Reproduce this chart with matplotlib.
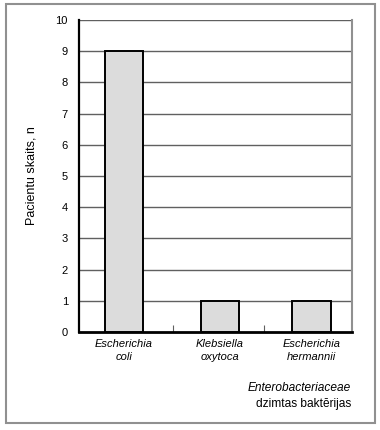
import matplotlib.pyplot as plt
from matplotlib.patches import Rectangle

# Data
species = ['Escherichia\ncoli', 'Klebsiella\noxytoca', 'Escherichia\nhermannii']
patients = [9, 1, 1]
y_ticks = list(range(0, 11))

plt.rcParams['font.family'] = ['Liberation Sans', 'DejaVu Sans']

fig = plt.figure(figsize=(3.8, 4.3), dpi=100)
W, H = 380, 430
ax = fig.add_axes([79 / W, 1 - 332 / H, 273 / W, 312 / H])

# horizontal grid lines
for t in y_ticks[1:]:
    ax.axhline(t, color='#606060', lw=1.0, zorder=1)

x = [0.015, 1.07, 2.075]
ax.bar(x, patients, width=0.42, color='#dcdcdc', edgecolor='black', lw=1.4, zorder=3)

ax.set_xlim(-0.48, 2.52)
ax.set_ylim(0, 10)
ax.set_yticks(y_ticks)
ax.tick_params(axis='y', length=0, pad=8, labelsize=8)
ax.set_xticks([0.553, 1.553])
ax.set_xticklabels([])
ax.tick_params(axis='x', direction='in', length=5, width=0.8, color='#606060')

for xi, name in zip(x, species):
    ax.text(xi, -0.24, name, ha='center', va='top', style='italic', fontsize=8,
            linespacing=1.35)

ax.spines['top'].set_visible(False)
ax.spines['right'].set_color('#909090')
ax.spines['right'].set_linewidth(1.5)
ax.spines['left'].set_linewidth(1.6)
ax.spines['bottom'].set_linewidth(2.0)

ax.set_ylabel('Pacientu skaits, n', fontsize=9)
ax.yaxis.set_label_coords(38 / W, 1 - 176 / H, transform=fig.transFigure)

fig.text(351 / W, 1 - 388 / H, 'Enterobacteriaceae', ha='right', va='center',
         style='italic', fontsize=8.6)
fig.text(351 / W, 1 - 404 / H, 'dzimtas baktērijas', ha='right', va='center',
         fontsize=8.6)

# outer frame
fig.patches.append(Rectangle((6 / W, 1 - 423 / H), 369 / W, 419 / H,
                             transform=fig.transFigure, fill=False,
                             edgecolor='#909090', lw=1.5))

plt.savefig('out.png', dpi=100)
